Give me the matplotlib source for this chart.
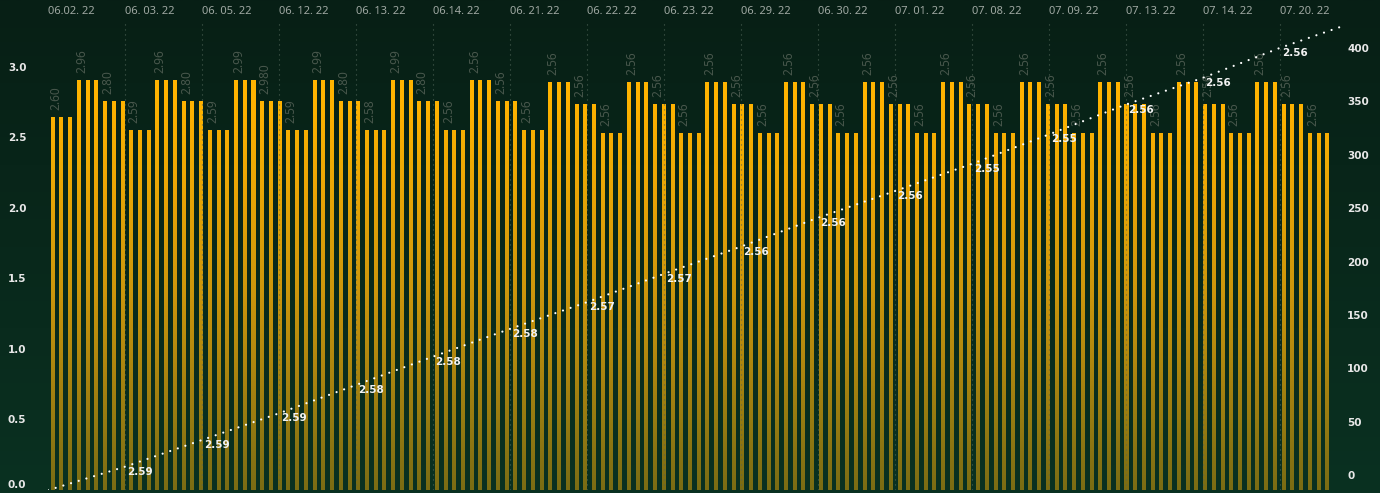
import numpy as np
import matplotlib
matplotlib.use('Agg')
import matplotlib.pyplot as plt
from matplotlib.path import Path
from matplotlib.patches import PathPatch
from matplotlib.transforms import Affine2D
from matplotlib.colors import LinearSegmentedColormap

plt.rcParams['font.family'] = ['Noto Sans', 'DejaVu Sans']

# dates shown on the top axis
dates = ['06.02. 22', '06. 03. 22', '06. 05. 22', '06. 12. 22', '06. 13. 22',
         '06.14. 22', '06. 21. 22', '06. 22. 22', '06. 23. 22', '06. 29. 22',
         '06. 30. 22', '07. 01. 22', '07. 08. 22', '07. 09. 22', '07. 13. 22',
         '07. 14. 22', '07. 20. 22']

# bar heights, one value per group of 3 equal bars (left axis)
group_values = [2.645,
                2.91, 2.76, 2.55, 2.91, 2.76, 2.55, 2.91, 2.76, 2.55,
                2.91, 2.76, 2.55, 2.91, 2.76, 2.55, 2.91, 2.76, 2.55,
                2.89, 2.74, 2.53, 2.89, 2.74, 2.53, 2.89, 2.74, 2.53,
                2.89, 2.74, 2.53, 2.89, 2.74, 2.53, 2.89, 2.74, 2.53,
                2.89, 2.74, 2.53, 2.89, 2.74, 2.53, 2.89, 2.74, 2.53,
                2.89, 2.74, 2.53]
group_labels = ['2.60', '2.96', '2.80', '2.59', '2.96', '2.80', '2.59', '2.99',
                '2.980', '2.59', '2.99', '2.80', '2.58', '2.99', '2.80', '2.56'] + ['2.56'] * 33
bars_per_group = 3

# cumulative line (right axis), one point per date tick
line_values = [-14, 8, 33, 58, 84.5, 111, 137, 162, 188.5, 214, 241, 266,
               291.5, 319, 347, 372, 400, 425]
line_labels = ['2.59', '2.59', '2.59', '2.58', '2.58', '2.58', '2.57', '2.57',
               '2.56', '2.56', '2.56', '2.55', '2.55', '2.56', '2.56', '2.56']

bar_values = np.repeat(group_values, bars_per_group)

BOLD = dict(family='DejaVu Sans', weight='bold')

fig = plt.figure(figsize=(13.8, 4.93), dpi=100)

# background gradient
bg = fig.add_axes([0, 0, 1, 1], zorder=-10)
bg_cmap = LinearSegmentedColormap.from_list('bg', ['#0a3121', '#071f15'])
bg.imshow(np.linspace(0, 1, 256).reshape(-1, 1), aspect='auto', cmap=bg_cmap,
          origin='lower', extent=(0, 1, 0, 1))
bg.axis('off')

rect = [48 / 1380, 3 / 493, 1295 / 1380, 469 / 493]
ax = fig.add_axes(rect)
ax.set_facecolor('none')

# bars with vertical gradient (an image clipped to the bar shapes)
bw = 0.46
paths = [Path.unit_rectangle().transformed(Affine2D().scale(bw, h).translate(i - bw / 2, 0))
         for i, h in enumerate(bar_values)]
clip = PathPatch(Path.make_compound_path(*paths), transform=ax.transData,
                 facecolor='none', edgecolor='none')
ax.add_patch(clip)
top = 3.2
bar_cmap = LinearSegmentedColormap.from_list(
    'bar', [(0, '#7a6c14'), (1.4 / top, '#cc960c'), (2.75 / top, '#ffb300'), (1, '#ffb300')])
im = ax.imshow(np.linspace(0, 1, 256).reshape(-1, 1), aspect='auto', cmap=bar_cmap,
               origin='lower', extent=(-0.54, 147.8, 0, top), zorder=2)
im.set_clip_path(clip)
ax.set_xlim(-0.54, 147.8)
ax.set_ylim(0, 3.326)

# vertical labels above each group
for k, (v, lab) in enumerate(zip(group_values, group_labels)):
    ax.annotate(lab, (k * bars_per_group + 0.33, v), xytext=(0, 7), textcoords='offset pixels',
                rotation=90, ha='center', va='bottom', fontsize=8.5, color='#48574c')

ax.set_xticks([])
ax.set_yticks([0, 0.5, 1.0, 1.5, 2.0, 2.5, 3.0])
ax.set_yticklabels(['0.0', '0.5', '1.0', '1.5', '2.0', '2.5', '3.0'], **BOLD)
ax.tick_params(axis='y', length=0, pad=15.5, labelsize=7.5, labelcolor='#e8e8e8')
ax.get_yticklabels()[0].set_verticalalignment('bottom')
for s in ax.spines.values():
    s.set_visible(False)

# line axis: dates on top, cumulative on right
axl = fig.add_axes(rect)
axl.set_facecolor('none')
axl.set_xlim(0, 16.82)
axl.set_ylim(-13.8, 425.2)
for s in axl.spines.values():
    s.set_visible(False)
axl.xaxis.tick_top()
axl.set_xticks(range(len(dates)))
axl.set_xticklabels(dates, ha='left')
axl.tick_params(axis='x', length=0, pad=3, labelsize=8, labelcolor='#9fa8a2')
axl.yaxis.tick_right()
axl.set_yticks(range(0, 401, 50))
axl.set_yticklabels([str(v) for v in range(0, 401, 50)], **BOLD)
axl.tick_params(axis='y', length=0, pad=3, labelsize=7.5, labelcolor='#e8e8e8')

axl.vlines(range(1, len(dates)), -13.8, 425.2, colors='#4f6457', linewidth=0.8,
           linestyles=(0, (1, 3.5)), zorder=3, alpha=0.9)

xs = np.arange(len(line_values))
axl.plot(xs, line_values, color='white', linewidth=1.6,
         linestyle=(0, (0.01, 3.6)), dash_capstyle='round', zorder=5)
for j, lab in enumerate(line_labels, start=1):
    axl.annotate(lab, (xs[j], line_values[j]), xytext=(2, -5), textcoords='offset pixels',
                 ha='left', va='center', fontsize=7.5, color='#f2f2f2', zorder=6, **BOLD)

fig.savefig('out.png', dpi=100)
